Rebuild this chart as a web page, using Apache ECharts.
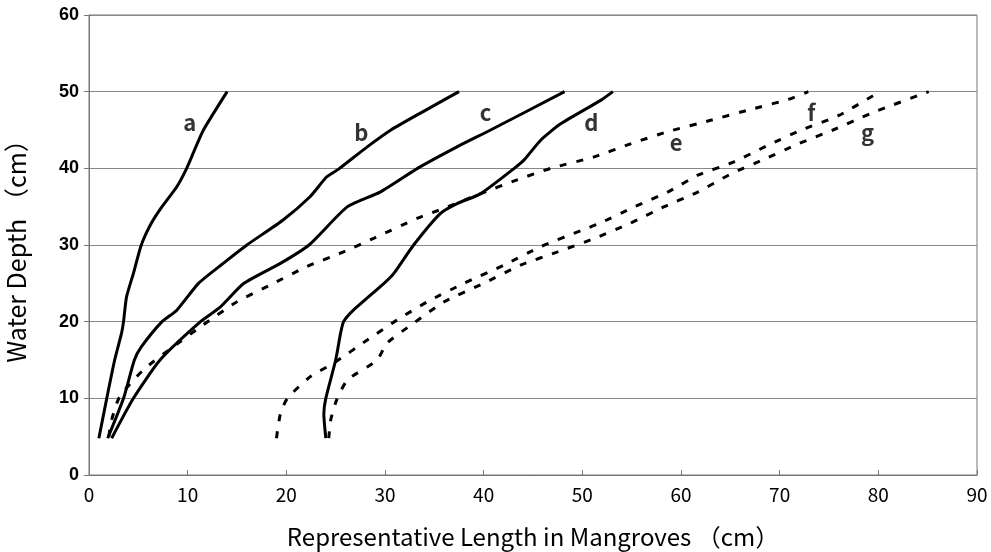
<!DOCTYPE html>
<html>
<head>
<meta charset="utf-8">
<script src="https://cdn.jsdelivr.net/npm/echarts@6/dist/echarts.min.js"></script>
<style>
  html, body { margin: 0; padding: 0; background: #fff; }
  #main { width: 991px; height: 552px; }
</style>
</head>
<body>
<div id="main"></div>
<script>
// curves: [length (cm), water depth (cm)]
var curveA = [[1.0,4.8],[1.8,10],[2.6,15],[3.3,18.5],[3.5,20],[3.8,23.2],[4.5,26.3],[5.3,30],[6.3,32.8],[7.4,35],[8.9,37.6],[9.9,40],[10.7,42.4],[11.6,45],[14.0,50]];
var curveB = [[1.9,4.8],[3.5,10],[4.6,15],[5.3,16.7],[7.4,20],[8.9,21.5],[11.1,25],[13.6,27.6],[16.0,30],[19.6,33.2],[22.4,36.3],[24.1,38.9],[25.3,39.9],[28.2,42.8],[30.6,45],[34.0,47.5],[37.5,50]];
var curveC = [[2.3,4.8],[4.5,10],[7.2,15],[11.3,20],[13.3,21.9],[15.7,25],[19.4,27.6],[22.3,30],[26.2,35],[29.5,36.9],[33.3,40],[37.3,42.8],[40.7,45],[48.2,50]];
var curveD = [[24.0,4.8],[23.8,8],[24.0,10],[25.0,15],[25.5,18.5],[25.8,20],[26.8,21.5],[29.9,25],[30.9,26.3],[32.9,30],[35.6,34.1],[37.3,35.4],[39.7,36.7],[43.1,40],[44.1,41.1],[45.8,43.7],[47.8,45.8],[51.9,48.9],[53.1,50]];
var curveE = [[2.0,5],[2.3,7.2],[3.1,10.2],[5.5,13.7],[8.5,16.7],[11.6,19.6],[15.0,22.6],[18.4,24.8],[22.1,27.2],[25.8,29.1],[28.9,30.9],[33.3,33.5],[36.0,34.8],[39.7,36.7],[43.4,38.5],[46.8,40],[51.2,41.5],[54.9,43.2],[58.7,44.8],[63.1,46.3],[67.1,47.7],[70.9,49],[72.9,50]];
var curveF = [[19.0,4.8],[19.4,8],[20.1,10],[22.4,12.8],[24.8,14.6],[28.2,17.6],[31.2,20.2],[34.3,22.6],[38.0,25],[42.1,27.4],[45.8,29.8],[49.9,31.9],[51.7,32.8],[55.3,35],[58.8,37],[61.7,39.1],[65.3,40.8],[68.8,43],[72.2,45],[76.0,46.9],[79.5,49.5],[80.2,50]];
var curveG = [[24.3,4.8],[24.5,7.2],[25.1,9.8],[26.2,12.4],[29.2,15],[30.2,17.2],[32.9,19.8],[36.0,22.6],[40.0,25],[43.8,27.4],[47.5,29.1],[51.3,30.9],[54.8,32.8],[58.3,35],[61.7,36.9],[65.1,39.3],[68.3,41.1],[71.9,43.2],[75.4,45],[79.3,47.2],[85.1,50]];

var curveNames = ['a', 'b', 'c', 'd', 'e', 'f', 'g'];
var curveData = [curveA, curveB, curveC, curveD, curveE, curveF, curveG];
var dashed = [false, false, false, false, true, true, true];

// label positions for the curve letters
var labelPos = [[10.2,45.9],[27.6,44.7],[40.2,47.2],[50.9,46.0],[59.5,43.4],[73.2,47.3],[78.9,44.6]];

var series = [];
for (var i = 0; i < curveData.length; i++) {
  series.push({
    name: curveNames[i],
    type: 'line',
    data: curveData[i],
    smooth: 0.2,
    showSymbol: false,
    lineStyle: {
      color: '#000',
      width: 3,
      type: dashed[i] ? [7, 10] : 'solid'
    }
  });
}

series.push({
  type: 'scatter',
  symbolSize: 0,
  data: labelPos.map(function (p, k) { return { name: curveNames[k], value: p }; }),
  label: {
    show: true,
    position: 'inside',
    formatter: '{b}',
    color: '#000',
    fontFamily: 'Noto Sans CJK JP',
    fontWeight: 'bold',
    fontSize: 22
  }
});

var chart = echarts.init(document.getElementById('main'));
chart.setOption({
  animation: false,
  grid: { left: 89, right: 14, top: 15, bottom: 77, show: true, borderColor: '#777', borderWidth: 1, outerBoundsMode: 'none' },
  xAxis: {
    type: 'value', min: 0, max: 90, interval: 10,
    name: 'Representative Length in Mangroves \uFF08cm\uFF09',
    nameLocation: 'middle', nameGap: 50,
    nameTextStyle: { fontFamily: 'Noto Sans CJK JP', fontSize: 24, color: '#000' },
    axisLine: { lineStyle: { color: '#777' } },
    axisTick: { inside: true, length: 5, lineStyle: { color: '#777' } },
    axisLabel: { fontFamily: 'Noto Sans CJK JP', fontSize: 19, color: '#000', margin: 10 },
    splitLine: { show: false }
  },
  yAxis: {
    type: 'value', min: 0, max: 60, interval: 10,
    name: 'Water Depth \uFF08cm\uFF09',
    nameLocation: 'middle', nameGap: 60, nameRotate: 90,
    nameTextStyle: { fontFamily: 'Noto Sans CJK JP', fontSize: 25, color: '#000' },
    axisLine: { lineStyle: { color: '#777' } },
    axisTick: { show: true, length: 5, lineStyle: { color: '#777' } },
    axisLabel: { fontFamily: 'Liberation Sans', fontWeight: 'bold', fontSize: 18, color: '#000', margin: 10 },
    splitLine: { lineStyle: { color: '#888', width: 1 } }
  },
  series: series
});
</script>
</body>
</html>
